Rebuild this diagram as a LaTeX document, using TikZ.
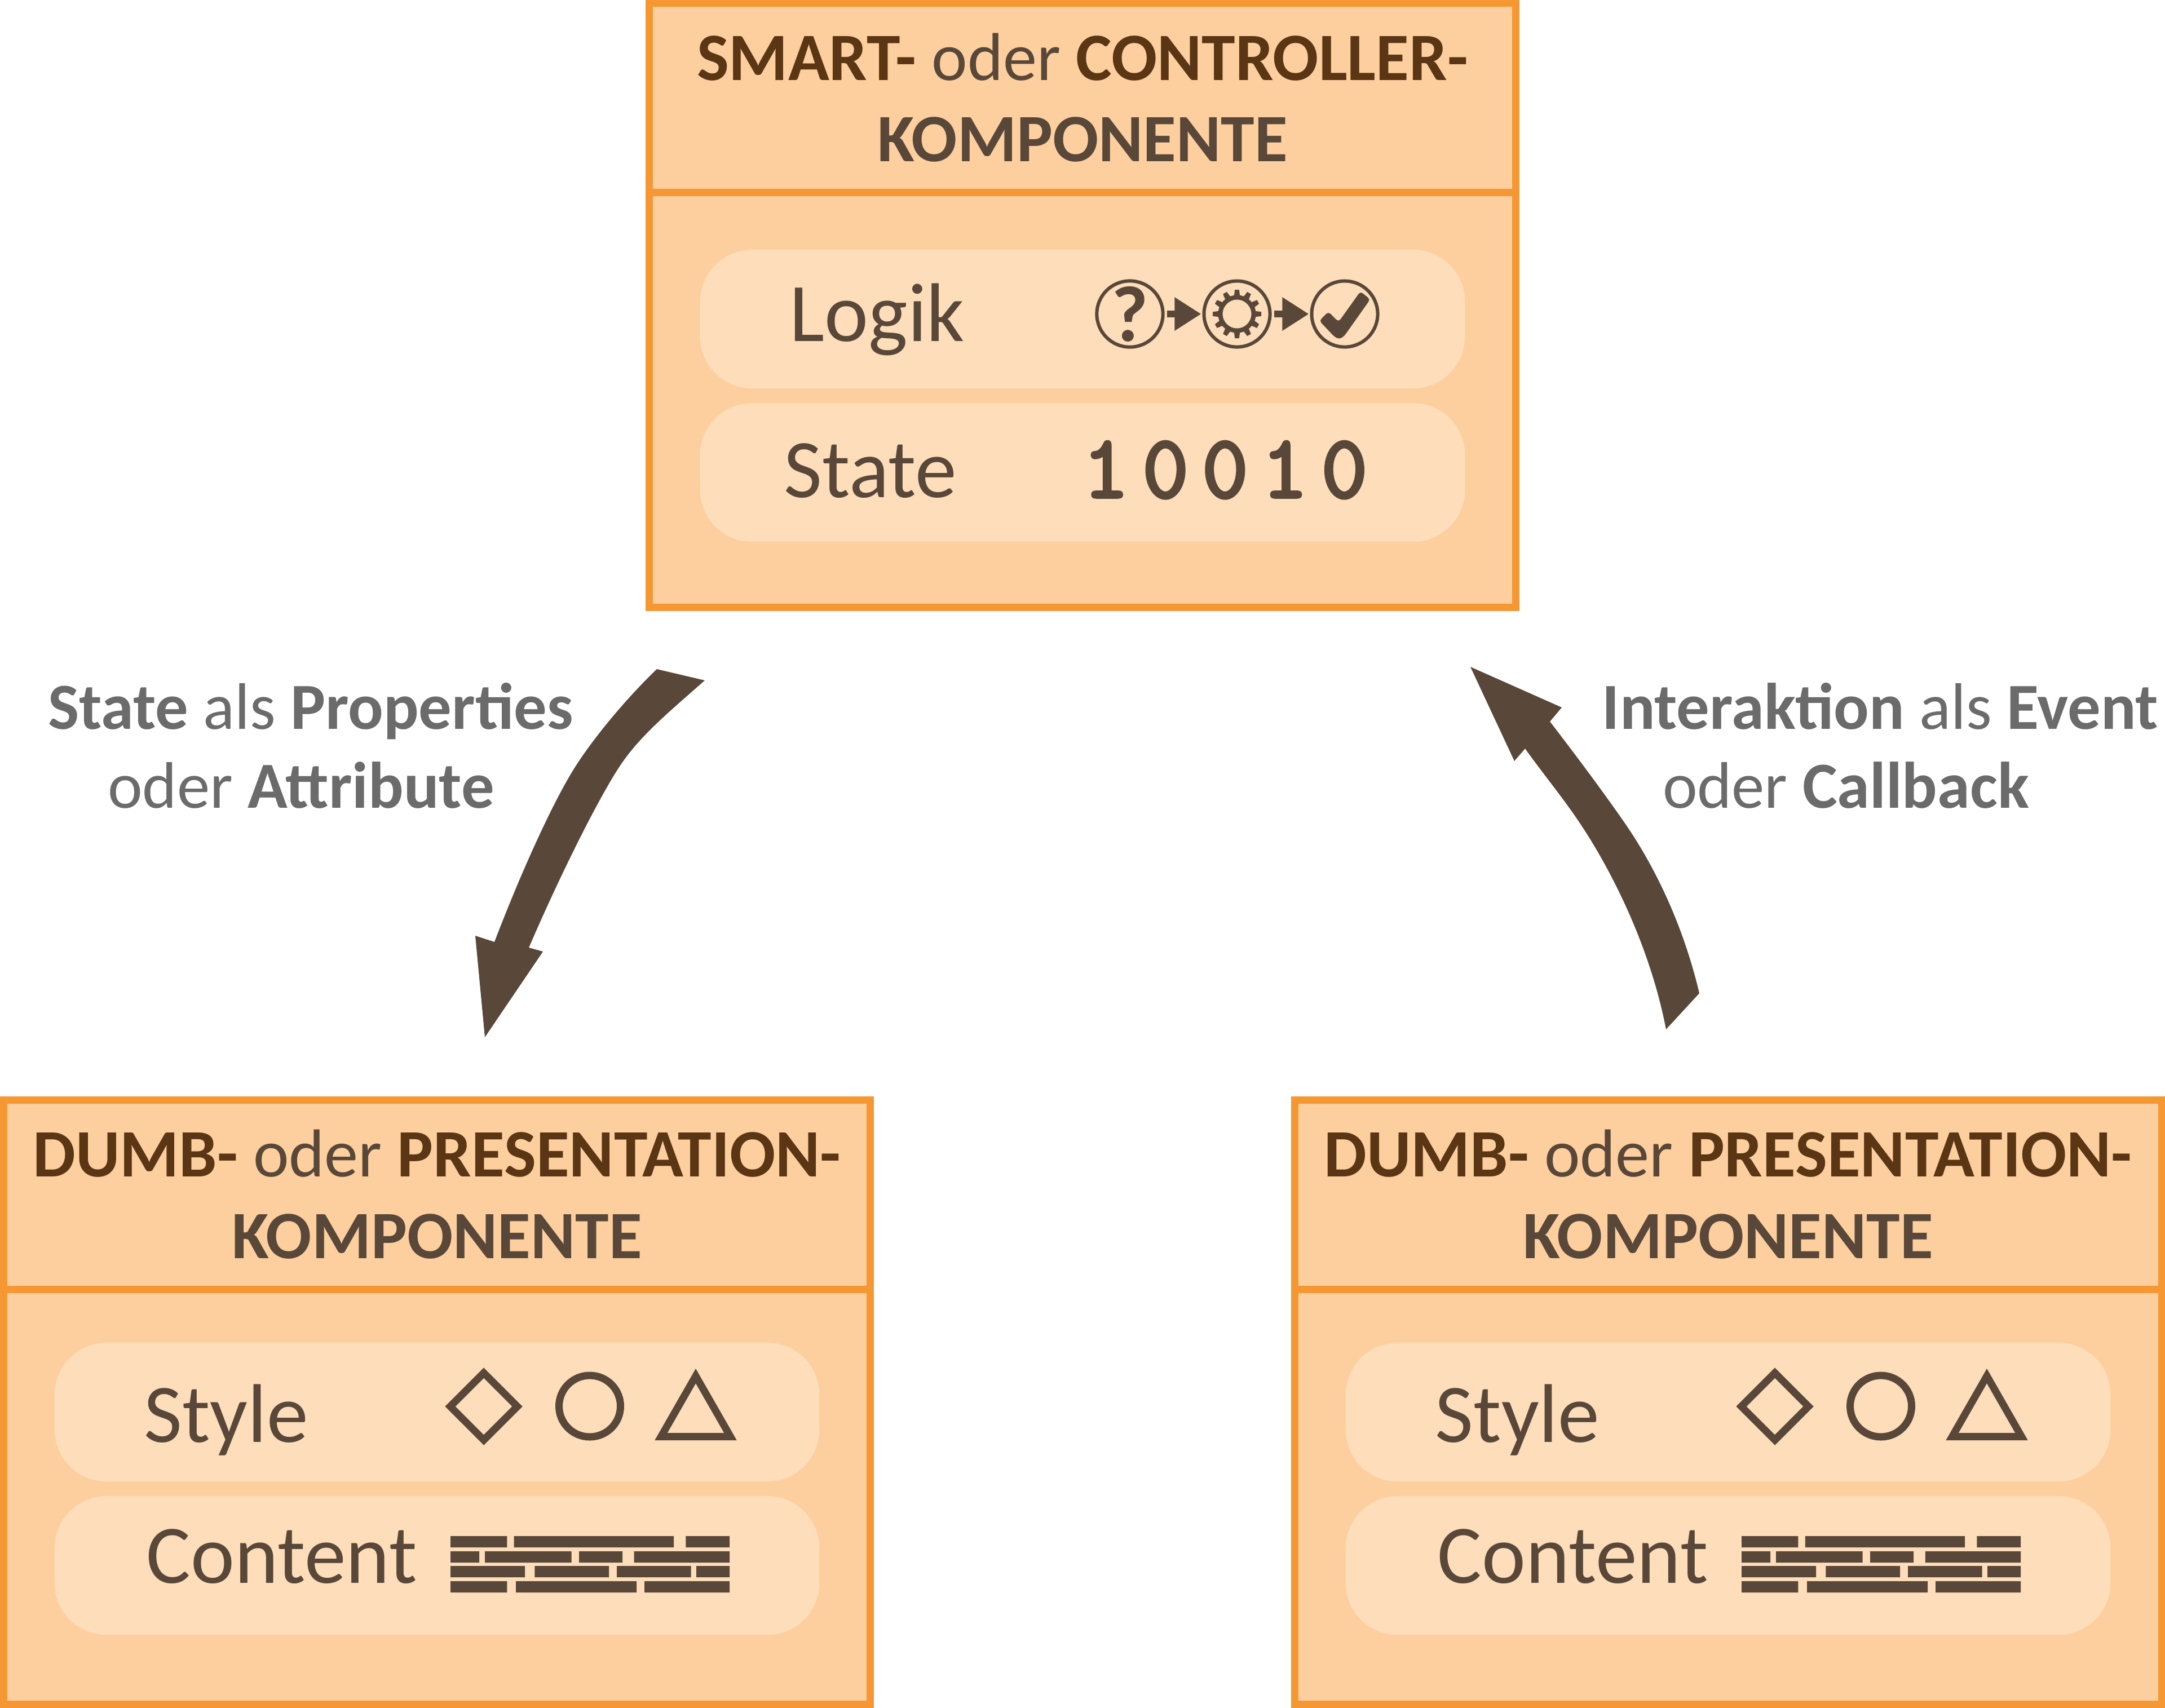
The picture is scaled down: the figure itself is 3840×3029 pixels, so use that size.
\documentclass[tikz,border=0pt]{standalone}
\usepackage{fontspec}
\setmainfont{Carlito}
\newfontfamily\bitfont[FakeBold=3.5]{Latin Modern Mono}
\usetikzlibrary{arrows.meta,calc}
\definecolor{rim}{HTML}{F59833}
\definecolor{boxfill}{HTML}{FDCF9E}
\definecolor{pillfill}{HTML}{FDDDBA}
\definecolor{ink}{HTML}{594839}
\definecolor{deep}{HTML}{5A3615}
\definecolor{label}{HTML}{6B6B6B}
\newcommand{\hd}[1]{\textbf{\textcolor{deep}{#1}}}
\tikzset{
  compbox/.style={draw=rim,fill=boxfill,line width=0.13cm,minimum width=15.37cm,minimum height=10.705cm,inner sep=0pt,outer sep=0pt},
  pillbox/.style={fill=pillfill,rounded corners=0.92cm,minimum width=13.56cm,minimum height=2.46cm,inner sep=0pt,outer sep=0pt},
  headtext/.style={anchor=base,inner sep=0pt,text=ink,font=\fontsize{34.2}{40}\selectfont},
  pilltext/.style={anchor=base west,inner sep=0pt,text=ink,font=\fontsize{42}{48}\selectfont},
  flowtext/.style={anchor=base,inner sep=0pt,text=label,font=\fontsize{33.2}{40}\selectfont},
  divider/.style={draw=rim,line width=0.13cm},
  ring/.style={circle,draw=ink,line width=0.06cm,minimum size=1.17cm,inner sep=0pt,outer sep=0pt},
  stepper/.style={draw=ink,line width=0.125cm,shorten <=0.07cm,shorten >=0.05cm,-{Triangle[length=0.47cm,width=0.56cm,fill=ink]}},
  outline/.style={draw=ink,line width=0.13cm,miter limit=10},
  brick/.style={fill=ink},
  flow/.style={fill=ink}
}
\newcommand{\dumbbox}[2]{%
\begin{scope}[shift={(#2,0)}]
  \node[compbox] (#1box) at (775,2487.5) {};
  \draw[divider] (#1box.west |- 0,2287.5) -- (#1box.east |- 0,2287.5);
  \node[pillbox] (#1p1) at (775,2505) {};
  \node[pillbox] (#1p2) at (775,2777) {};
  \node[headtext] (#1h1) at (775,2087) {\hd{DUMB-} oder \hd{PRESENTATION-}};
  \node[headtext] (#1h2) at (775,2232) {\textbf{KOMPONENTE}};
  \node[pilltext] (#1t1) at (255,2558) {Style};
  \node[pilltext] (#1t2) at (259,2808) {Content};
  \draw[outline] (858,2435.5) -- (917.5,2495) -- (858,2554.5) -- (798.5,2495) -- cycle;
  \draw[outline] (1046,2494.5) circle (54.5);
  \draw[outline] (1172.5,2548.5) -- (1234,2441) -- (1295.5,2548.5) -- cycle;
  \fill[brick] (799,2725) rectangle (899.4,2745) (911.7,2725) rectangle (1195,2745) (1216.4,2725) rectangle (1294,2745);
  \fill[brick] (799,2752) rectangle (850,2772) (860,2752) rectangle (1013.6,2772) (1027,2752) rectangle (1104,2772) (1124.7,2752) rectangle (1294,2772);
  \fill[brick] (799,2778) rectangle (931,2798) (948.4,2778) rectangle (1080,2798) (1094,2778) rectangle (1225.5,2798) (1235,2778) rectangle (1294,2798);
  \fill[brick] (799,2805) rectangle (899.4,2825) (915,2805) rectangle (1129,2825) (1143,2805) rectangle (1294,2825);
\end{scope}}
\begin{document}
\begin{tikzpicture}[x=0.01cm,y=-0.01cm]
\useasboundingbox (0,0) rectangle (3840,3029);
% smart component
\node[compbox] (smart) at (1920,541.5) {};
\draw[divider] (smart.west |- 0,341.5) -- (smart.east |- 0,341.5);
\node[pillbox] (logikp) at (1920,566) {};
\node[pillbox] (statep) at (1920,838) {};
\node[headtext] (sh1) at (1920,142) {\hd{SMART-} oder \hd{CONTROLLER-}};
\node[headtext] (sh2) at (1920,286.5) {\textbf{KOMPONENTE}};
\node[pilltext] (logikt) at (1400,605) {Logik};
\node[pilltext] (statet) at (1390,882) {State};
\node[anchor=base west,inner sep=0pt,text=ink,font=\fontsize{45}{48}\bitfont] (bits) at (1920,882) {\spaceskip=6.9pt 1 0 0 1 0};
\node[ring,text=ink,font=\fontsize{40}{40}\selectfont\bfseries] (ask) at (2004,557) {?};
\node[ring] (work) at (2194,557) {};
\node[ring] (done) at (2385,557) {};
\draw[stepper] (ask) -- (work);
\draw[stepper] (work) -- (done);
\begin{scope}[shift={(work.center)}]
  \draw[ink,line width=0.08cm] (0,0) circle (29.5);
  \foreach \a in {0,30,...,330}
    \fill[ink,rotate=\a] (-5.5,-30) -- (-3.8,-43) -- (3.8,-43) -- (5.5,-30) -- cycle;
\end{scope}
\begin{scope}[shift={(done.center)}]
  \fill[ink,rounded corners=0.05cm] (-45,12) -- (-29,-4) -- (-10.7,14) -- (27.9,-40) -- (45.3,-26) -- (-0.7,39) -- (-9.6,45) -- (-18.6,40) -- cycle;
\end{scope}
% dumb components
\dumbbox{l}{0}
\dumbbox{r}{2290}
% flow labels
\node[flowtext] (fl1) at (551,1293) {\textbf{State} als \textbf{Properties}};
\node[flowtext] (fl2) at (534,1433) {oder \textbf{Attribute}};
\node[flowtext] (fr1) at (3335,1293) {\textbf{Interaktion} als \textbf{Event}};
\node[flowtext] (fr2) at (3274,1433) {oder \textbf{Callback}};
% flows
\coordinate (ltailA) at (1165,1187);
\coordinate (ltailB) at (1250,1207);
\coordinate (ltip) at (860,1840);
\fill[flow] (ltailA) .. controls (1115,1235) and (1060,1300) .. (1025,1353)
  .. controls (985,1413) and (925,1545) .. (877,1671)
  -- (843,1660) -- (ltip) -- (963,1688) -- (938,1681)
  .. controls (990,1560) and (1060,1418) .. (1100,1358)
  .. controls (1135,1305) and (1190,1260) .. (ltailB) -- cycle;
\coordinate (rtip) at (2608,1183);
\coordinate (rtailA) at (3014,1762);
\coordinate (rtailB) at (2955,1826);
\fill[flow] (rtip) -- (2770,1255) -- (2749,1280)
  .. controls (2795,1340) and (2840,1400) .. (2881,1459)
  .. controls (2935,1537) and (2985,1640) .. (rtailA)
  -- (rtailB)
  .. controls (2925,1670) and (2850,1530) .. (2798,1454)
  .. controls (2768,1410) and (2735,1370) .. (2705,1328)
  -- (2686,1350) -- cycle;
\end{tikzpicture}
\end{document}
